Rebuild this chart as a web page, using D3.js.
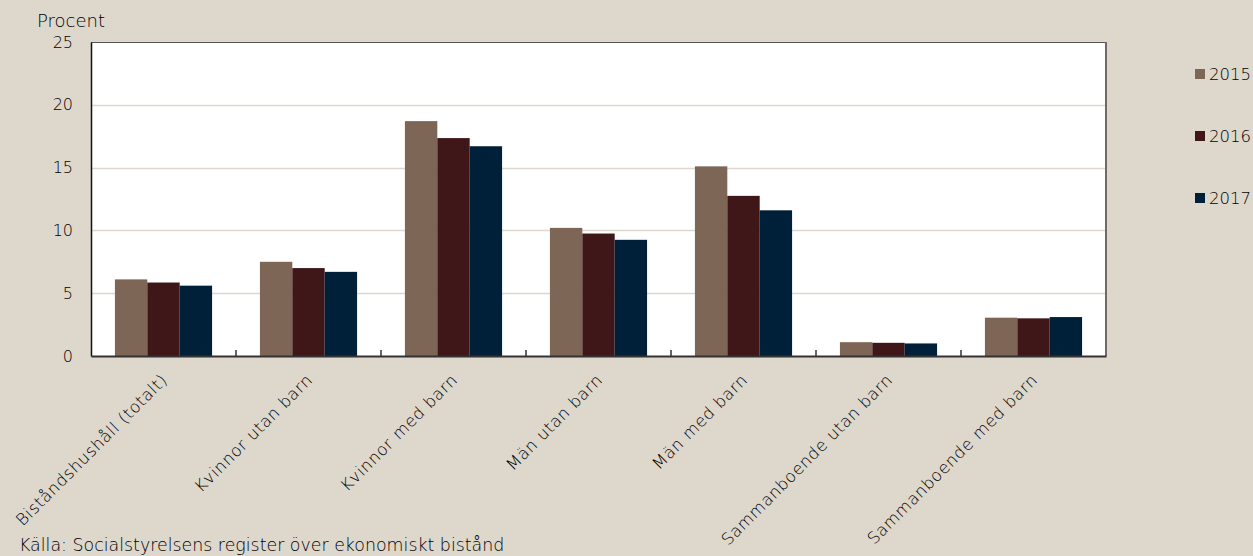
<!DOCTYPE html>
<html>
<head>
<meta charset="utf-8">
<script src="https://cdn.jsdelivr.net/npm/d3@7"></script>
<style>
  html, body { margin: 0; padding: 0; background: #ddd7cc; }
  svg { display: block; font-family: "DejaVu Sans", sans-serif; font-weight: 200; }
</style>
</head>
<body>
<div id="chart"></div>
<script>
const categories = [
  "Biståndshushåll (totalt)",
  "Kvinnor utan barn",
  "Kvinnor med barn",
  "Män utan barn",
  "Män med barn",
  "Sammanboende utan barn",
  "Sammanboende med barn"
];
const years = ["2015", "2016", "2017"];
const values2015 = [6.1, 7.5, 18.7, 10.2, 15.1, 1.1, 3.05];
const values2016 = [5.85, 7.0, 17.35, 9.75, 12.75, 1.05, 3.0];
const values2017 = [5.6, 6.7, 16.7, 9.25, 11.6, 1.0, 3.1];
const yTicks = [0, 5, 10, 15, 20, 25];
const yearColors = ["#7d6655", "#3f1719", "#00203a"];

const W = 1253, H = 556;
const plot = { left: 91, right: 1106, top: 42, bottom: 356 };

const series = [values2015, values2016, values2017];
const rows = categories.map((c, i) => ({
  cat: c,
  vals: years.map((yr, j) => ({ year: yr, value: series[j][i] }))
}));

const svg = d3.select("#chart").append("svg").attr("width", W).attr("height", H);

const x0 = d3.scaleBand().domain(categories).range([plot.left, plot.right]).padding(0);
const bw = x0.bandwidth();
const x1 = d3.scaleBand().domain(years).range([bw * 0.165, bw * 0.835]).padding(0);
const y = d3.scaleLinear().domain([0, 25]).range([plot.bottom, plot.top]);
const color = d3.scaleOrdinal().domain(years).range(yearColors);

// plot background
svg.append("rect")
  .attr("x", plot.left).attr("y", plot.top)
  .attr("width", plot.right - plot.left).attr("height", plot.bottom - plot.top)
  .attr("fill", "#ffffff");

// gridlines
svg.append("g")
  .selectAll("line")
  .data(yTicks.filter((t) => t > 0 && t < 25))
  .enter()
  .append("line")
  .attr("x1", plot.left).attr("x2", plot.right)
  .attr("y1", (d) => Math.round(y(d)) + 0.5).attr("y2", (d) => Math.round(y(d)) + 0.5)
  .attr("stroke", "#ddd7cc").attr("stroke-width", 1.5);

// bars
svg.append("g")
  .selectAll("g")
  .data(rows)
  .enter()
  .append("g")
  .attr("transform", (d) => `translate(${x0(d.cat)},0)`)
  .selectAll("rect")
  .data((d) => d.vals)
  .enter()
  .append("rect")
  .attr("x", (d) => x1(d.year))
  .attr("y", (d) => y(d.value))
  .attr("width", x1.bandwidth())
  .attr("height", (d) => y(0) - y(d.value))
  .attr("fill", (d) => color(d.year));

// frame
svg.append("line").attr("x1", plot.left).attr("x2", plot.right)
  .attr("y1", plot.top + 0.5).attr("y2", plot.top + 0.5)
  .attr("stroke", "#555").attr("stroke-width", 1);
svg.append("line").attr("x1", plot.right).attr("x2", plot.right)
  .attr("y1", plot.top).attr("y2", plot.bottom)
  .attr("stroke", "#6f6a66").attr("stroke-width", 2);

// y axis
const yAxis = svg.append("g")
  .attr("transform", `translate(${plot.left},0)`)
  .call(d3.axisLeft(y).tickValues(yTicks).tickSize(0).tickPadding(18));
yAxis.select(".domain").attr("stroke", "#111").attr("stroke-width", 1.5);
yAxis.selectAll("text").attr("font-size", 16).attr("fill", "#000")
  .attr("font-family", "DejaVu Sans, sans-serif");

// x axis
const xAxis = svg.append("g")
  .attr("transform", `translate(0,${plot.bottom})`)
  .call(d3.axisBottom(x0).tickSize(0).tickFormat(""));
xAxis.select(".domain").attr("stroke", "#333").attr("stroke-width", 2);
svg.append("g")
  .selectAll("line")
  .data(categories.slice(1))
  .enter()
  .append("line")
  .attr("x1", (d) => x0(d)).attr("x2", (d) => x0(d))
  .attr("y1", plot.bottom - 6).attr("y2", plot.bottom)
  .attr("stroke", "#333").attr("stroke-width", 1.5);

// category labels
svg.append("g")
  .selectAll("text")
  .data(categories)
  .enter()
  .append("text")
  .attr("transform", (d) => `translate(${x0(d) + bw / 2 + 5},${plot.bottom + 25}) rotate(-45)`)
  .attr("text-anchor", "end")
  .attr("font-size", 16.5)
  .attr("letter-spacing", 0.6)
  .attr("fill", "#000")
  .text((d) => d);

// y title
svg.append("text")
  .attr("x", 37).attr("y", 27)
  .attr("font-size", 18).attr("fill", "#000")
  .text("Procent");

// legend
const legend = svg.append("g")
  .selectAll("g")
  .data(years)
  .enter()
  .append("g")
  .attr("transform", (d, i) => `translate(1195,${69 + i * 62})`);
legend.append("rect").attr("width", 10).attr("height", 10).attr("fill", (d) => color(d));
legend.append("text").attr("x", 14).attr("y", 11)
  .attr("font-size", 16.5).attr("fill", "#000").text((d) => d);

// source
svg.append("text")
  .attr("x", 19).attr("y", 551)
  .attr("font-size", 17.4).attr("fill", "#000")
  .text("Källa: Socialstyrelsens register över ekonomiskt bistånd");
</script>
</body>
</html>
